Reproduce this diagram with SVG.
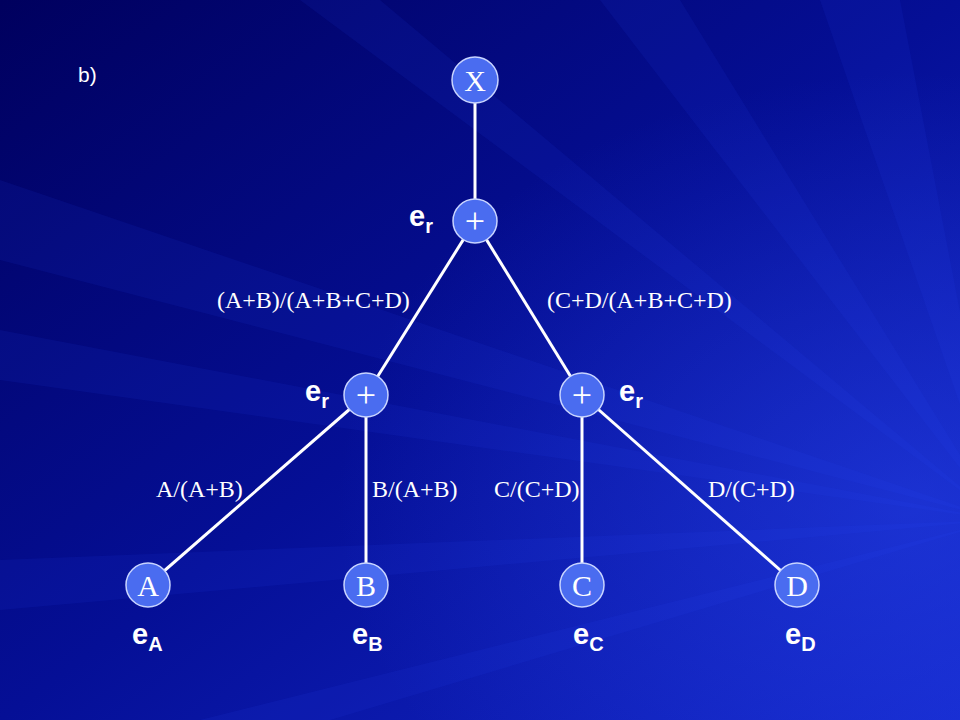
<svg xmlns="http://www.w3.org/2000/svg" width="960" height="720" viewBox="0 0 960 720">
<defs>
<linearGradient id="bg" x1="0" y1="0" x2="1" y2="1">
<stop offset="0" stop-color="#00005e"/>
<stop offset="0.5" stop-color="#050f96"/>
<stop offset="1" stop-color="#1428cc"/>
</linearGradient>
<radialGradient id="glow" cx="0.95" cy="0.7" r="0.6">
<stop offset="0" stop-color="#2a48f0" stop-opacity="0.45"/>
<stop offset="1" stop-color="#2a48f0" stop-opacity="0"/>
</radialGradient>
<style>
.edge{stroke:#ffffff;stroke-width:3;fill:none}
.node circle{fill:#4a6cf0;stroke:#c8d4ff;stroke-width:1.5}
.nl{font-family:"Liberation Serif","Times New Roman",serif;font-size:30px;fill:#ffffff;text-anchor:middle}
.pl{font-family:"Liberation Serif","Times New Roman",serif;font-size:36px;fill:#ffffff;text-anchor:middle}
.lbl{font-family:"Liberation Serif","Times New Roman",serif;font-size:24px;fill:#ffffff}
.e{font-family:"Liberation Sans",Arial,sans-serif;font-weight:bold;font-size:29px;fill:#ffffff}
.sub{font-size:20px}
.ray{fill:#3050ff;opacity:0.09}
</style>
</defs>
<rect width="960" height="720" fill="url(#bg)"/>
<rect width="960" height="720" fill="url(#glow)"/>
<g id="rays">
<polygon class="ray" points="1000,520 0,180 0,260"/>
<polygon class="ray" points="1000,520 0,330 0,380"/>
<polygon class="ray" points="1000,520 300,0 380,0"/>
<polygon class="ray" points="1000,520 600,0 680,0"/>
<polygon class="ray" points="1000,520 0,560 0,610"/>
<polygon class="ray" points="1000,520 820,0 900,0"/>
<polygon class="ray" points="1000,520 200,720 330,720"/>
</g>
<text x="78" y="82" font-family="Liberation Sans,Arial,sans-serif" font-size="21" fill="#ffffff">b)</text>
<g id="connectors">
<line class="edge" x1="475" y1="80" x2="475" y2="221"/>
<line class="edge" x1="475" y1="221" x2="366" y2="395"/>
<line class="edge" x1="475" y1="221" x2="582" y2="395"/>
<line class="edge" x1="366" y1="395" x2="148" y2="585"/>
<line class="edge" x1="366" y1="395" x2="366" y2="585"/>
<line class="edge" x1="582" y1="395" x2="582" y2="585"/>
<line class="edge" x1="582" y1="395" x2="797" y2="585"/>
</g>
<g id="edge-labels">
<text class="lbl" x="217" y="308">(A+B)/(A+B+C+D)</text>
<text class="lbl" x="547" y="308">(C+D/(A+B+C+D)</text>
<text class="lbl" x="156" y="497">A/(A+B)</text>
<text class="lbl" x="372" y="497">B/(A+B)</text>
<text class="lbl" x="494" y="497">C/(C+D)</text>
<text class="lbl" x="708" y="497">D/(C+D)</text>
</g>
<g id="node-X" class="node"><circle cx="475" cy="80" r="23"/><text class="nl" x="475" y="91">X</text></g>
<g id="node-plus-top" class="node"><circle cx="475" cy="221" r="22"/><text class="pl" x="475" y="233">+</text></g>
<g id="node-plus-left" class="node"><circle cx="366" cy="395" r="22"/><text class="pl" x="366" y="407">+</text></g>
<g id="node-plus-right" class="node"><circle cx="582" cy="395" r="22"/><text class="pl" x="582" y="407">+</text></g>
<g id="node-A" class="node"><circle cx="148" cy="585" r="22"/><text class="nl" x="148" y="596">A</text></g>
<g id="node-B" class="node"><circle cx="366" cy="585" r="22"/><text class="nl" x="366" y="596">B</text></g>
<g id="node-C" class="node"><circle cx="582" cy="585" r="22"/><text class="nl" x="582" y="596">C</text></g>
<g id="node-D" class="node"><circle cx="797" cy="585" r="22"/><text class="nl" x="797" y="596">D</text></g>
<g id="error-labels">
<text class="e" x="409" y="226">e<tspan class="sub" dy="7">r</tspan></text>
<text class="e" x="305" y="401">e<tspan class="sub" dy="7">r</tspan></text>
<text class="e" x="619" y="401">e<tspan class="sub" dy="7">r</tspan></text>
<text class="e" x="132" y="644">e<tspan class="sub" dy="7">A</tspan></text>
<text class="e" x="352" y="644">e<tspan class="sub" dy="7">B</tspan></text>
<text class="e" x="573" y="644">e<tspan class="sub" dy="7">C</tspan></text>
<text class="e" x="785" y="644">e<tspan class="sub" dy="7">D</tspan></text>
</g>
</svg>
